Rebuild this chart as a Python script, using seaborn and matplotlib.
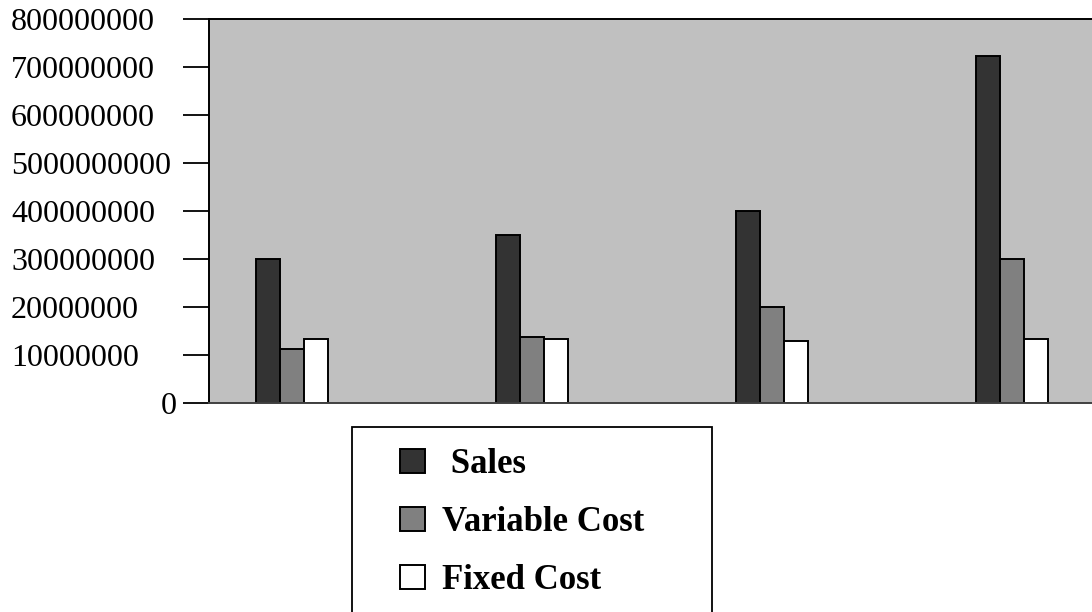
import matplotlib
matplotlib.use("Agg")
import matplotlib.pyplot as plt
import matplotlib.transforms as mtransforms
from matplotlib.patches import Rectangle
import pandas as pd
import seaborn as sns

# ---- data -------------------------------------------------------------
periods = ["Year 1", "Year 2", "Year 3", "Year 4"]
series_names = ["Sales", "Variable Cost", "Fixed Cost"]
sales = [300e6, 350e6, 400e6, 722e6]
variable_cost = [112e6, 137e6, 200e6, 300e6]
fixed_cost = [133e6, 133e6, 129e6, 133e6]

ytick_values = [0, 1e8, 2e8, 3e8, 4e8, 5e8, 6e8, 7e8, 8e8]
ytick_labels = ["0", "10000000", "20000000", "300000000", "400000000",
                "5000000000", "600000000", "700000000", "800000000"]
legend_labels = [" Sales", "Variable Cost", "Fixed Cost"]

colors = ["#333333", "#808080", "#ffffff"]

df = pd.DataFrame({
    "period": periods * 3,
    "series": [s for s in series_names for _ in periods],
    "value": sales + variable_cost + fixed_cost,
})

# ---- figure -----------------------------------------------------------
sns.set_style("white")
plt.rcParams["font.family"] = ["Liberation Serif", "DejaVu Serif"]
plt.rcParams["text.color"] = "black"

W, H = 1092, 612
fig = plt.figure(figsize=(W / 100, H / 100), dpi=100)
fig.patch.set_facecolor("white")

ax_left, ax_right, ax_top, ax_bottom = 209, 1092, 19, 403
ax = fig.add_axes([ax_left / W, 1 - ax_bottom / H,
                   (ax_right - ax_left) / W, (ax_bottom - ax_top) / H])
ax.set_facecolor("#c0c0c0")

sns.barplot(data=df, x="period", y="value", hue="series",
            hue_order=series_names, palette=colors, width=0.3, gap=0,
            edgecolor="black", linewidth=1.4, saturation=1,
            ax=ax, legend=True)

handles, _ = ax.get_legend_handles_labels()
ax.get_legend().remove()

ax.set_xlim(-0.346, 3.333)
ax.set_ylim(0, 8e8)
ax.set_xlabel("")
ax.set_ylabel("")
ax.tick_params(axis="x", length=0, labelbottom=False)
ax.set_yticks(ytick_values)
ax.tick_params(axis="y", direction="out", length=19, width=1.3,
               color="black", labelleft=False, left=True)

for side in ["left", "top"]:
    ax.spines[side].set_visible(True)
    ax.spines[side].set_color("black")
    ax.spines[side].set_linewidth(1.4)
ax.spines["bottom"].set_color("#404040")
ax.spines["bottom"].set_linewidth(1.4)
ax.spines["right"].set_visible(False)

# y tick labels, left aligned at the figure margin
trans = mtransforms.blended_transform_factory(fig.transFigure, ax.transData)
for v, lab in zip(ytick_values, ytick_labels):
    if lab == "0":
        ax.text(177 / W, v, lab, transform=trans, ha="right",
                va="center_baseline", fontsize=23, color="black",
                clip_on=False)
    else:
        ax.text(11 / W, v, lab, transform=trans, ha="left",
                va="center_baseline", fontsize=23, color="black",
                clip_on=False)

# ---- legend -----------------------------------------------------------
fig.patches.append(Rectangle((352 / W, -0.05), (712 - 352) / W,
                             (1 - 427 / H) + 0.05, transform=fig.transFigure,
                             facecolor="white", edgecolor="black",
                             linewidth=1.3, zorder=0))
leg = fig.legend(handles, legend_labels, loc="upper left",
                 bbox_to_anchor=(369 / W, 1 - 417 / H),
                 frameon=False, prop={"weight": "bold", "size": 25},
                 handlelength=0.7, handleheight=0.7, handletextpad=0.5,
                 labelspacing=0.72, labelcolor="black")

fig.savefig("out.png", dpi=100)
